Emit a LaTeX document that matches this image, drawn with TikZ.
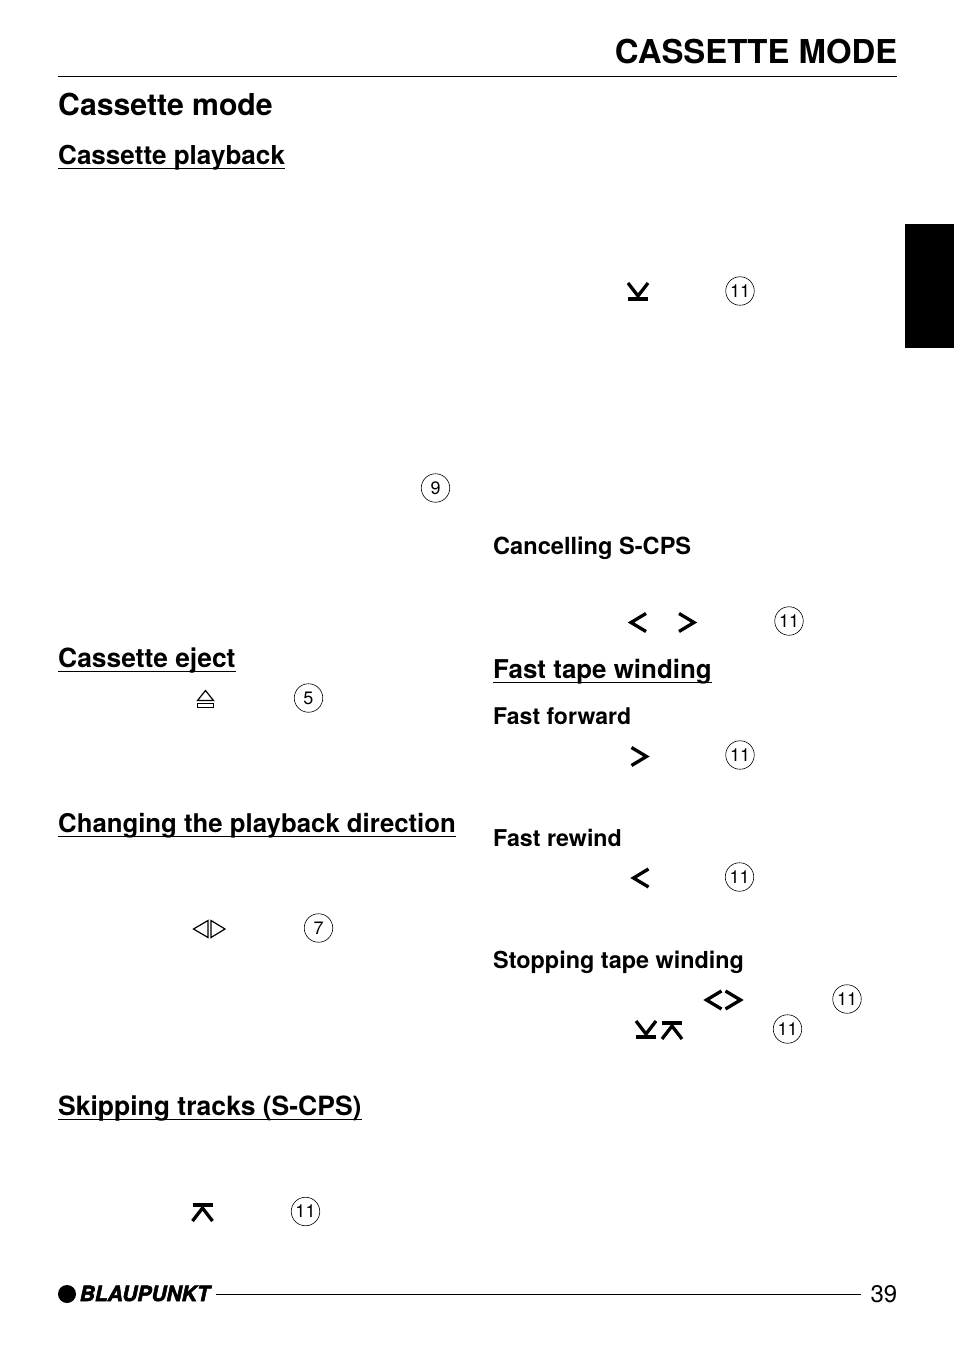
\documentclass[tikz,border=0pt]{standalone}
\usepackage{fontspec}
\setmainfont{TeX Gyre Heros}
\newfontfamily\logofont[BoldItalicFeatures={FakeBold=2.5}]{TeX Gyre Heros}
\tikzset{
  pagetitle/.style={anchor=base east,inner sep=0pt,font=\bfseries\fontsize{32.9}{33}\selectfont},
  chaptertitle/.style={anchor=base west,inner sep=0pt,font=\bfseries\fontsize{30.2}{30}\selectfont},
  sectiontitle/.style={anchor=base west,inner sep=0pt,font=\bfseries\fontsize{#1}{27}\selectfont},
  subtitle/.style={anchor=base west,inner sep=0pt,font=\bfseries\fontsize{#1}{24}\selectfont},
  keynumber/.style={draw,circle,line width=0.6pt,minimum size=28.5pt,inner sep=0pt,font=\fontsize{18}{18}\selectfont},
  keystroke/.style={line width=3.3pt,miter limit=10},
  keythin/.style={line width=1.2pt}
}
\begin{document}
\begin{tikzpicture}[x=1pt,y=-1pt]
  \useasboundingbox (0,0) rectangle (954,1349);
  \fill (905,224) rectangle (954,348);

  % head
  \node[pagetitle] (title) at (897.5,63) {CASSETTE MODE};
  \coordinate (ruleleft) at (58,76.5);
  \coordinate (ruleright) at (897,76.5);
  \draw[line width=0.9pt] (ruleleft) -- (ruleright);
  \node[chaptertitle] (chapter) at (58,115) {Cassette mode};

  % underlined headings
  \node[sectiontitle=26.05] (playback) at (58,164) {Cassette playback};
  \node[sectiontitle=26.4] (eject) at (58,667) {Cassette eject};
  \node[sectiontitle=25.75] (direction) at (58,832) {Changing the playback direction};
  \node[sectiontitle=26.5] (skipping) at (58,1115) {Skipping tracks (S-CPS)};
  \node[sectiontitle=25.9] (winding) at (493,678) {Fast tape winding};
  \foreach \n in {playback,eject,direction,skipping,winding}
    \draw[line width=1.9pt] ([yshift=-4.5pt]\n.base west) -- ([yshift=-4.5pt]\n.base east);

  \node[subtitle=23.6] (cancelling) at (493,554) {Cancelling S-CPS};
  \node[subtitle=23] (forward) at (493,724) {Fast forward};
  \node[subtitle=23.2] (rewind) at (493,846) {Fast rewind};
  \node[subtitle=23.4] (stopping) at (493,968) {Stopping tape winding};

  % key numbers
  \foreach \x/\y/\k [count=\i] in {740/291/11,435.5/488/9,308.5/698/5,318.5/928/7,305.5/1211.5/11,
      789/621/11,740/755/11,739.5/877/11,847/999/11,787.5/1029/11}
    \node[keynumber] (key\i) at (\x,\y) {\k};

  % skip keys
  \foreach \x/\y in {628/283,636/1021} {
    \draw[keystroke] (\x,\y) -- (\x+10,\y+13) -- (\x+20,\y);
    \draw[keystroke] (\x,\y+16) -- (\x+20,\y+16);
  }
  \foreach \x/\y in {192.5/1221,662/1039} {
    \draw[keystroke] (\x,\y) -- (\x+10,\y-13) -- (\x+20,\y);
    \draw[keystroke] (\x,\y-16) -- (\x+20,\y-16);
  }

  % arrow keys
  \foreach \x/\y in {646/622.5,648.5/878,721.5/1000}
    \draw[keystroke] (\x,\y-9) -- (\x-15,\y) -- (\x,\y+9);
  \foreach \x/\y in {679/622.5,631.5/756.5,725.5/1000}
    \draw[keystroke] (\x,\y-9) -- (\x+15,\y) -- (\x,\y+9);

  % eject key
  \draw[keythin] (197.5,700.5) -- (205.5,690.5) -- (213.5,700.5) -- cycle;
  \draw[line width=1.6pt] (197.5,703.5) rectangle (213.5,707.5);

  % direction key
  \draw[keythin] (208,920.5) -- (193.5,929) -- (208,937.5) -- cycle;
  \draw[keythin] (211,920.5) -- (225,929) -- (211,937.5) -- cycle;

  % foot
  \fill (67,1294) circle (9);
  \node[anchor=base west,inner sep=0pt,font=\logofont\bfseries\itshape\fontsize{21}{21}\selectfont] (logo) at (79.5,1301) {BLAUPUNKT};
  \node[anchor=base east,inner sep=0pt,font=\fontsize{24}{24}\selectfont] (pagenum) at (897.5,1302) {39};
  \coordinate (footleft) at (216,1294.5);
  \coordinate (footright) at (861,1294.5);
  \draw[line width=0.9pt] (footleft) -- (footright);
\end{tikzpicture}
\end{document}
